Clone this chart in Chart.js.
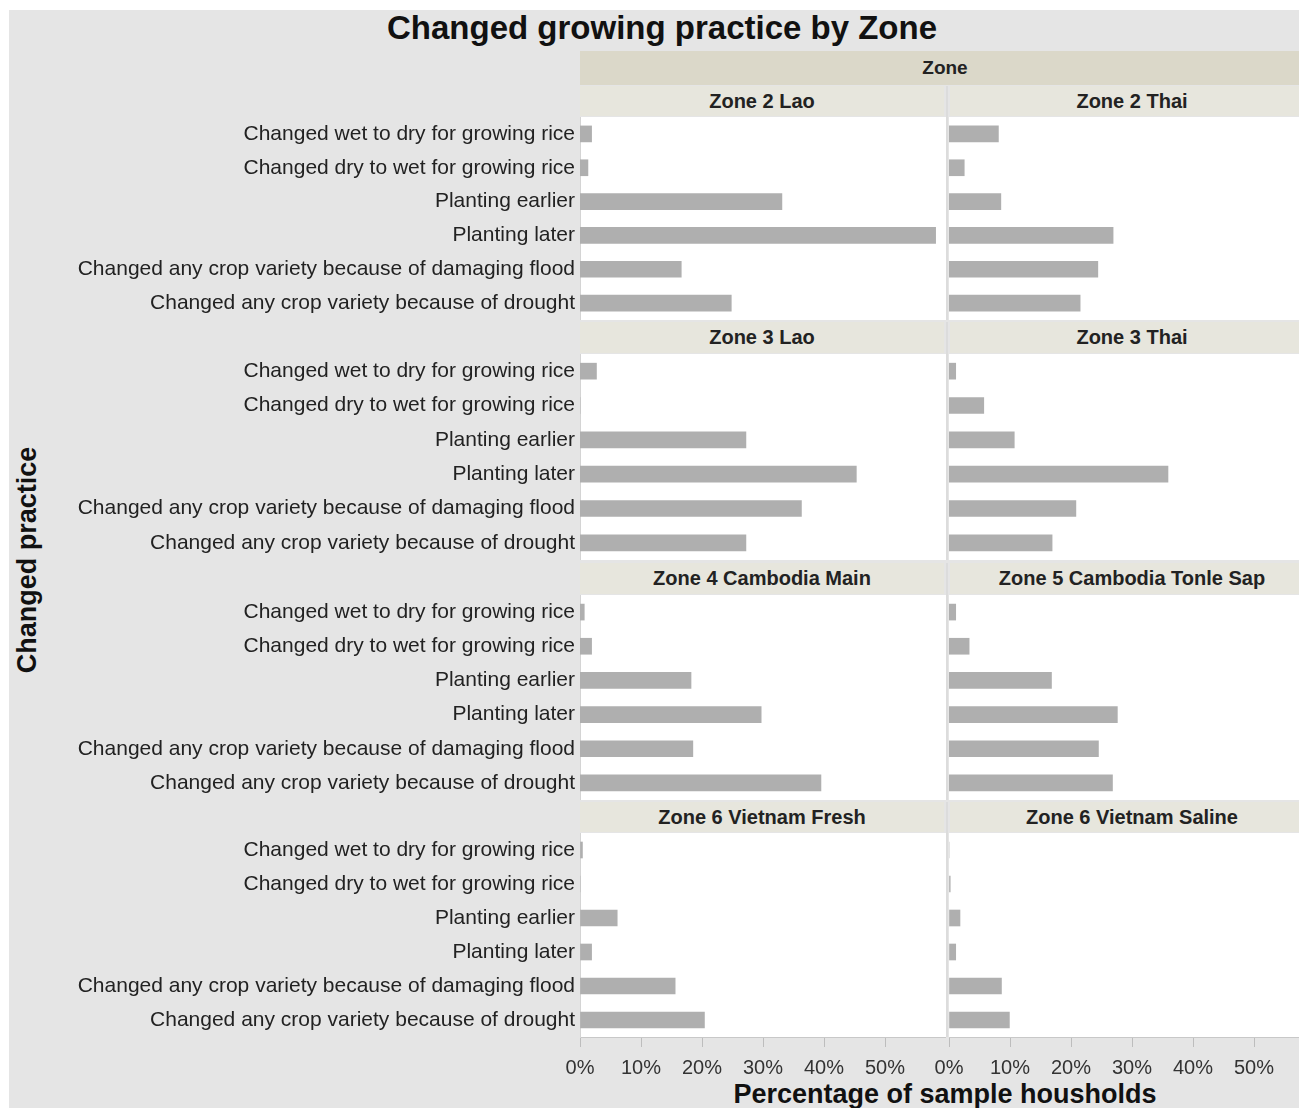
<!DOCTYPE html>
<html>
<head>
<meta charset="utf-8">
<script src="https://cdn.jsdelivr.net/npm/chart.js@4"></script>
<style>
  html, body { margin: 0; padding: 0; background: #fff; }
  body { width: 1299px; height: 1108px; overflow: hidden; position: relative; font-family: "Liberation Sans", Arial, Helvetica, sans-serif; }
  .abs { position: absolute; }
  #bg { left: 9px; top: 10px; width: 1290px; height: 1098px; background: #e5e5e5; }
  #title { left: 9px; top: 8px; width: 1306px; text-align: center; font-weight: bold; font-size: 33px; line-height: 40px; color: #111; }
  #zoneBand { left: 580px; top: 51px; width: 730px; height: 34px; background: #dbd8c9; text-align: center; line-height: 34px; font-weight: bold; font-size: 19px; color: #222; }
  .head { background: #e7e6dd; text-align: center; font-weight: bold; font-size: 20px; color: #222; }
  .panel { background: #fff; }
  .sep { background: #dcdcdc; }
  #yTitle { left: 27px; top: 560px; transform: translate(-50%, -50%) rotate(-90deg); white-space: nowrap; font-weight: bold; font-size: 27px; color: #111; }
  #xTitle { left: 580px; top: 1077px; width: 730px; text-align: center; font-weight: bold; font-size: 27px; line-height: 34px; color: #111; }
</style>
</head>
<body>
<div id="bg" class="abs"></div>
<div id="title" class="abs">Changed growing practice by Zone</div>
<div id="zoneBand" class="abs">Zone</div>
<div id="yTitle" class="abs">Changed practice</div>
<div id="xTitle" class="abs">Percentage of sample housholds</div>
<div id="facets"></div>

<script>
const practices = [
  'Changed wet to dry for growing rice',
  'Changed dry to wet for growing rice',
  'Planting earlier',
  'Planting later',
  'Changed any crop variety because of damaging flood',
  'Changed any crop variety because of drought'
];

const zoneNames = [
  'Zone 2 Lao', 'Zone 2 Thai',
  'Zone 3 Lao', 'Zone 3 Thai',
  'Zone 4 Cambodia Main', 'Zone 5 Cambodia Tonle Sap',
  'Zone 6 Vietnam Fresh', 'Zone 6 Vietnam Saline'
];

// percentages
const zone2Lao = [1.9, 1.3, 33.1, 58.3, 16.6, 24.8];
const zone2Thai = [8.1, 2.5, 8.5, 26.9, 24.4, 21.5];
const zone3Lao = [2.7, 0, 27.2, 45.3, 36.3, 27.2];
const zone3Thai = [1.1, 5.7, 10.7, 35.9, 20.8, 16.9];
const zone4CambodiaMain = [0.7, 1.9, 18.2, 29.7, 18.5, 39.5];
const zone5TonleSap = [1.1, 3.3, 16.8, 27.6, 24.5, 26.8];
const zone6Fresh = [0.4, 0, 6.1, 1.9, 15.6, 20.4];
const zone6Saline = [0, 0.2, 1.8, 1.1, 8.6, 9.9];

const xTicks = [0, 10, 20, 30, 40, 50];
const xMax = 60;

const zoneValues = [
  zone2Lao, zone2Thai,
  zone3Lao, zone3Thai,
  zone4CambodiaMain, zone5TonleSap,
  zone6Fresh, zone6Saline
];

// facet geometry (pixels)
const rows = [
  { head: 86, top: 117, h: 203 },
  { head: 322, top: 354, h: 206 },
  { head: 563, top: 595, h: 205 },
  { head: 802, top: 833, h: 204 }
];
const cols = [
  { left: 580, width: 366 },
  { left: 949, width: 366 }
];
const LABEL_W = 571;
const RIGHT_PAD = 20;
const AXIS_H = 46;
const FONT = '"Liberation Sans", Arial, Helvetica, sans-serif';

const facets = document.getElementById('facets');

function addDiv(cls, style, text) {
  const el = document.createElement('div');
  el.className = 'abs ' + cls;
  Object.assign(el.style, style);
  if (text) el.textContent = text;
  facets.appendChild(el);
  return el;
}

function renderPanel(rowIdx, colIdx) {
  const idx = rowIdx * 2 + colIdx;
  const r = rows[rowIdx];
  const c = cols[colIdx];
  const isLeft = colIdx === 0;
  const isBottom = rowIdx === rows.length - 1;
  const headH = r.top - r.head - 1;

  addDiv('head', {
    left: (c.left + (isLeft ? 0 : 1)) + 'px', top: r.head + 'px',
    width: (c.width - 2) + 'px', height: headH + 'px', lineHeight: headH + 'px'
  }, zoneNames[idx]);
  addDiv('panel', { left: c.left + 'px', top: r.top + 'px', width: c.width + 'px', height: r.h + 'px' });

  const padLeft = isLeft ? LABEL_W : RIGHT_PAD;
  const canvasLeft = c.left - padLeft;
  const canvasW = c.width + padLeft;
  const canvasH = r.h + (isBottom ? AXIS_H : 0);

  const wrap = addDiv('', { left: canvasLeft + 'px', top: r.top + 'px', width: canvasW + 'px', height: canvasH + 'px' });
  const canvas = document.createElement('canvas');
  canvas.width = canvasW;
  canvas.height = canvasH;
  canvas.style.width = canvasW + 'px';
  canvas.style.height = canvasH + 'px';
  wrap.appendChild(canvas);

  new Chart(canvas, {
    type: 'bar',
    data: {
      labels: practices,
      datasets: [{
        label: zoneNames[idx],
        data: zoneValues[idx],
        backgroundColor: '#afafaf',
        borderWidth: 0,
        barThickness: 16
      }]
    },
    options: {
      indexAxis: 'y',
      responsive: false,
      animation: false,
      layout: { padding: { left: isLeft ? 0 : RIGHT_PAD, right: 0, top: 0, bottom: 0 } },
      plugins: { legend: { display: false }, tooltip: { enabled: false } },
      scales: {
        x: {
          type: 'linear',
          min: 0,
          max: xMax,
          display: isBottom,
          afterBuildTicks: scale => {
            scale.ticks = xTicks.map(v => ({ value: v }));
          },
          afterFit: scale => {
            if (isBottom) scale.height = AXIS_H;
            scale.paddingLeft = 0;
            scale.paddingRight = 0;
          },
          grid: { drawOnChartArea: false, drawTicks: true, tickLength: 10, color: '#bdbdbd' },
          border: { display: true, color: '#c8c8c8', width: 1 },
          ticks: {
            padding: 9,
            color: '#333',
            font: { family: FONT, size: 20 },
            maxRotation: 0,
            callback: v => v + '%'
          }
        },
        y: {
          type: 'category',
          display: isLeft,
          afterFit: scale => {
            if (isLeft) scale.width = LABEL_W;
            scale.paddingTop = 0;
            scale.paddingBottom = 0;
          },
          grid: { display: false, drawTicks: false },
          border: { display: true, color: '#d4d4d4', width: 1 },
          ticks: {
            padding: 5,
            color: '#222',
            autoSkip: false,
            font: { family: FONT, size: 21 }
          }
        }
      }
    }
  });
}

// separators between the two columns
rows.forEach(r => {
  addDiv('sep', { left: '946px', top: r.head + 'px', width: '2px', height: (r.top - r.head + r.h) + 'px' });
});

rows.forEach((r, ri) => {
  cols.forEach((c, ci) => renderPanel(ri, ci));
});
</script>
</body>
</html>
